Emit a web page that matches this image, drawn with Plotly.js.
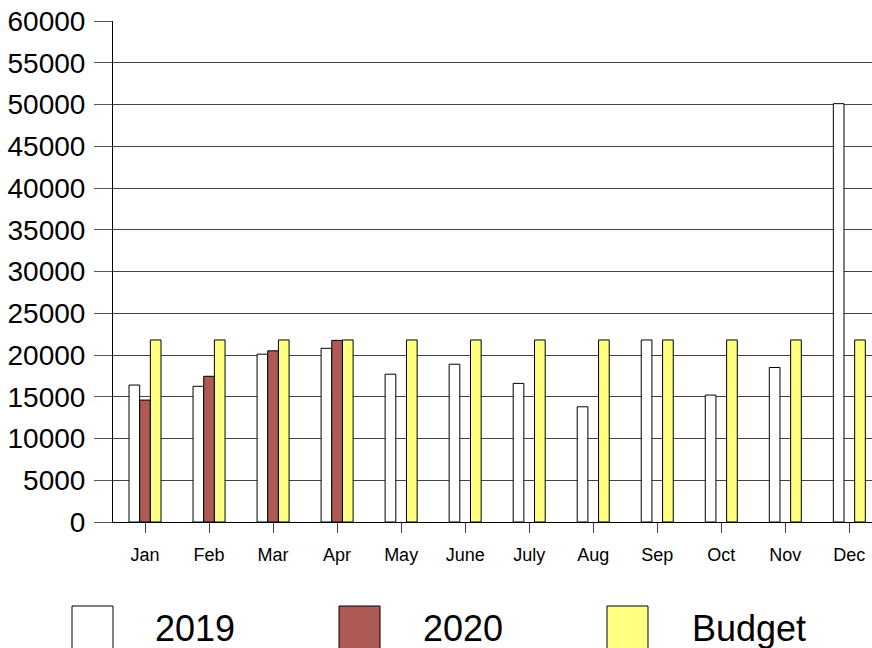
<!DOCTYPE html>
<html>
<head>
<meta charset="utf-8">
<script src="https://cdn.plot.ly/plotly-3.0.1.min.js"></script>
<style>
html,body{margin:0;padding:0;overflow:hidden;background:#fff;}
#chart{width:872px;height:648px;}
</style>
</head>
<body>
<div id="chart"></div>
<script>
var months = ["Jan","Feb","Mar","Apr","May","June","July","Aug","Sep","Oct","Nov","Dec"];
var values2019 = [16400,16250,20100,20800,17700,18900,16600,13800,21800,15200,18500,50100];
var values2020 = [14600,17450,20500,21750,null,null,null,null,null,null,null,null];
var valuesBudget = [21800,21800,21800,21800,21800,21800,21800,21800,21800,21800,21800,21800];
var seriesNames = ["2019","2020","Budget"];
var seriesColors = ["#FFFFFF","#AD5A55","#FFFF80"];
var seriesValues = [values2019, values2020, valuesBudget];

var traces = seriesNames.map(function(name, i){
  return {
    type: 'bar',
    name: name,
    x: months,
    y: seriesValues[i],
    marker: {color: seriesColors[i], line: {color: '#000000', width: 1}},
    hoverinfo: 'x+y+name'
  };
});

// legend drawn in paper coordinates (plot area: x 113..872px, y 21..522px)
var L = 113, R = 872, T = 21, B = 522;
function px(x){ return (x - L) / (R - L); }
function py(y){ return (B - y) / (B - T); }
var boxLeft = [72, 339, 607];
var textLeft = [153, 421, 690];
var shapes = [];
var annotations = [];
seriesNames.forEach(function(name, i){
  shapes.push({
    type: 'rect', xref: 'paper', yref: 'paper',
    x0: px(boxLeft[i]), x1: px(boxLeft[i] + 41),
    y0: py(606), y1: py(670),
    fillcolor: seriesColors[i],
    line: {color: '#000000', width: 1}
  });
  annotations.push({
    xref: 'paper', yref: 'paper',
    x: px(textLeft[i]), y: py(628),
    xanchor: 'left', yanchor: 'middle',
    text: name, showarrow: false,
    font: {family: 'Arial, Liberation Sans, sans-serif', size: 36, color: '#000'}
  });
});

var layout = {
  width: 872, height: 648,
  margin: {l: L, r: 0, t: T, b: 648 - B, pad: 0},
  paper_bgcolor: '#ffffff', plot_bgcolor: '#ffffff',
  barmode: 'group', bargap: 0.5, bargroupgap: 0,
  showlegend: false,
  font: {family: 'Arial, Liberation Sans, sans-serif', color: '#000'},
  xaxis: {
    type: 'category',
    range: [-0.5, 11.354],
    showgrid: false,
    showline: true, linecolor: '#000', linewidth: 1,
    ticks: 'outside', ticklen: 10, tickcolor: '#444', tickwidth: 1,
    tickfont: {size: 18, color: '#000'},
    ticklabelstandoff: 6,
    zeroline: false, fixedrange: true
  },
  yaxis: {
    range: [0, 60000],
    dtick: 5000, tick0: 0,
    showgrid: true, gridcolor: '#444', gridwidth: 1,
    showline: true, linecolor: '#000', linewidth: 1,
    ticks: 'outside', ticklen: 18, tickcolor: '#555', tickwidth: 1,
    tickfont: {size: 28, color: '#000'},
    ticklabelstandoff: 3,
    tickformat: 'd',
    zeroline: false, fixedrange: true
  },
  shapes: shapes,
  annotations: annotations
};

Plotly.newPlot('chart', traces, layout, {displayModeBar: false, staticPlot: true});
</script>
</body>
</html>
